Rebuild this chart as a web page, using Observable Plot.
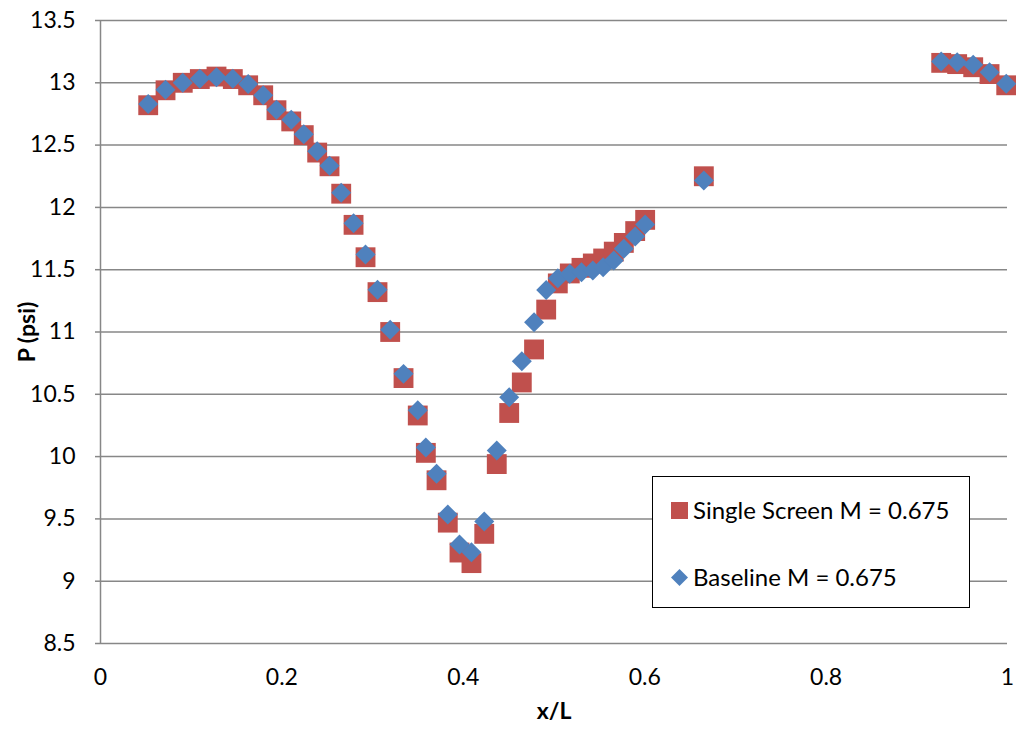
<!DOCTYPE html>
<html><head><meta charset="utf-8">
<script src="https://cdn.jsdelivr.net/npm/d3@7"></script>
<script src="https://cdn.jsdelivr.net/npm/@observablehq/plot@0.6"></script>
<style>
body{margin:0;background:#fff;font-family:Lato,"Open Sans",sans-serif;}
#wrap{position:relative;width:1016px;height:736px;overflow:hidden;}
#legend{position:absolute;left:652px;top:476px;width:318px;height:132px;border:1.5px solid #000;background:#fff;box-sizing:border-box;font-family:Lato,sans-serif;font-size:24px;color:#000;}
.lg{position:absolute;left:18px;display:flex;align-items:center;gap:5px;white-space:nowrap;line-height:24px;}
</style></head><body><div id="wrap"><div id="legend"></div></div>
<script>
const xPos = [0.0526,0.0717,0.0907,0.1095,0.1279,0.1459,0.1628,0.1794,0.194,0.2103,0.2241,0.2389,0.2525,0.2654,0.279,0.2922,0.3054,0.3194,0.3341,0.3498,0.3587,0.3705,0.3829,0.3958,0.409,0.4231,0.4369,0.4506,0.4645,0.478,0.4914,0.5042,0.5174,0.5303,0.5428,0.5542,0.5659,0.577,0.5895,0.6005,0.6652,0.9269,0.9445,0.9622,0.9802,0.9986];
const singleScreen = [12.82,12.94,13.0,13.03,13.05,13.03,12.98,12.90,12.78,12.69,12.58,12.44,12.33,12.11,11.86,11.60,11.32,11.00,10.63,10.33,10.03,9.81,9.47,9.23,9.145,9.38,9.94,10.35,10.595,10.86,11.18,11.39,11.47,11.515,11.55,11.59,11.645,11.715,11.81,11.90,12.25,13.16,13.15,13.125,13.07,12.98];
const baseline = [12.83,12.944,13.0,13.032,13.045,13.032,12.99,12.90,12.783,12.703,12.587,12.451,12.334,12.117,11.873,11.622,11.339,11.018,10.664,10.372,10.073,9.862,9.535,9.295,9.233,9.479,10.049,10.477,10.766,11.079,11.337,11.432,11.467,11.48,11.494,11.52,11.574,11.668,11.767,11.863,12.216,13.171,13.165,13.144,13.085,12.992];
const yTicks = [8.5,9,9.5,10,10.5,11,11.5,12,12.5,13,13.5];
const yTickLabels = ["8.5","9","9.5","10","10.5","11","11.5","12","12.5","13","13.5"];
const xTicks = [0,0.2,0.4,0.6,0.8,1];
const xTickLabels = ["0","0.2","0.4","0.6","0.8","1"];
const seriesNames = ["Single Screen M = 0.675","Baseline M = 0.675"];
const seriesColors = ["#C0504D","#4F81BD"];
const xTitle = "x/L", yTitle = "P (psi)";

const ssData = xPos.map((x,i)=>({x, y: singleScreen[i]}));
const blData = xPos.map((x,i)=>({x, y: baseline[i]}));

const chart = Plot.plot({
  width:1016, height:736,
  marginLeft:100, marginRight:9, marginTop:20, marginBottom:93,
  style:{fontFamily:"Lato, 'Open Sans', sans-serif", fontSize:"23px", color:"#000", background:"transparent", overflow:"visible"},
  x:{domain:[0,1]},
  y:{domain:[8.5,13.5]},
  marks:[
    Plot.gridY(yTicks.slice(1), {stroke:"#878787", strokeOpacity:1, strokeWidth:1.5}),
    Plot.ruleX([0], {stroke:"#878787", strokeWidth:1.5}),
    Plot.ruleY([8.5], {stroke:"#878787", strokeWidth:1.5}),
    Plot.axisY(yTicks, {tickSize:5, tickPadding:20, stroke:"#878787", strokeWidth:1.5, strokeOpacity:1, label:null, tickFormat:(d)=>yTickLabels[yTicks.indexOf(d)], fill:"#000", fontSize:23}),
    Plot.axisX(xTicks, {tickSize:0, tickPadding:25, label:null, tickFormat:(d)=>xTickLabels[xTicks.indexOf(d)], fill:"#000", fontSize:23}),
    Plot.dot(ssData, {x:"x", y:"y", symbol:"square", r:11.2, fill:seriesColors[0], stroke:null}),
    Plot.dot(blData, {x:"x", y:"y", symbol:"diamond2", r:9, fill:seriesColors[1], stroke:null}),
    Plot.text([yTitle], {frameAnchor:"left", textAnchor:"middle", dx:-73, rotate:-90, fontWeight:"bold", fontSize:23, fill:"#000"}),
    Plot.text([xTitle], {frameAnchor:"bottom", textAnchor:"middle", dy:75, fontWeight:"bold", fontSize:23, fill:"#000"})
  ]
});
const wrap = document.getElementById("wrap");
wrap.insertBefore(chart, wrap.firstChild);

const legend = document.getElementById("legend");
const items = [
  {name: seriesNames[0], color: seriesColors[0], shape: '<rect x="0" y="0" width="17" height="17"/>', top: 21},
  {name: seriesNames[1], color: seriesColors[1], shape: '<path d="M8.5,0L17,8.5L8.5,17L0,8.5Z"/>', top: 88}
];
items.forEach(it=>{
  const d = document.createElement("div");
  d.className = "lg";
  d.style.top = it.top + "px";
  d.innerHTML = `<svg width="17" height="17" style="fill:${it.color};flex:none">${it.shape}</svg><span>${it.name}</span>`;
  legend.appendChild(d);
});
</script>
</body></html>
